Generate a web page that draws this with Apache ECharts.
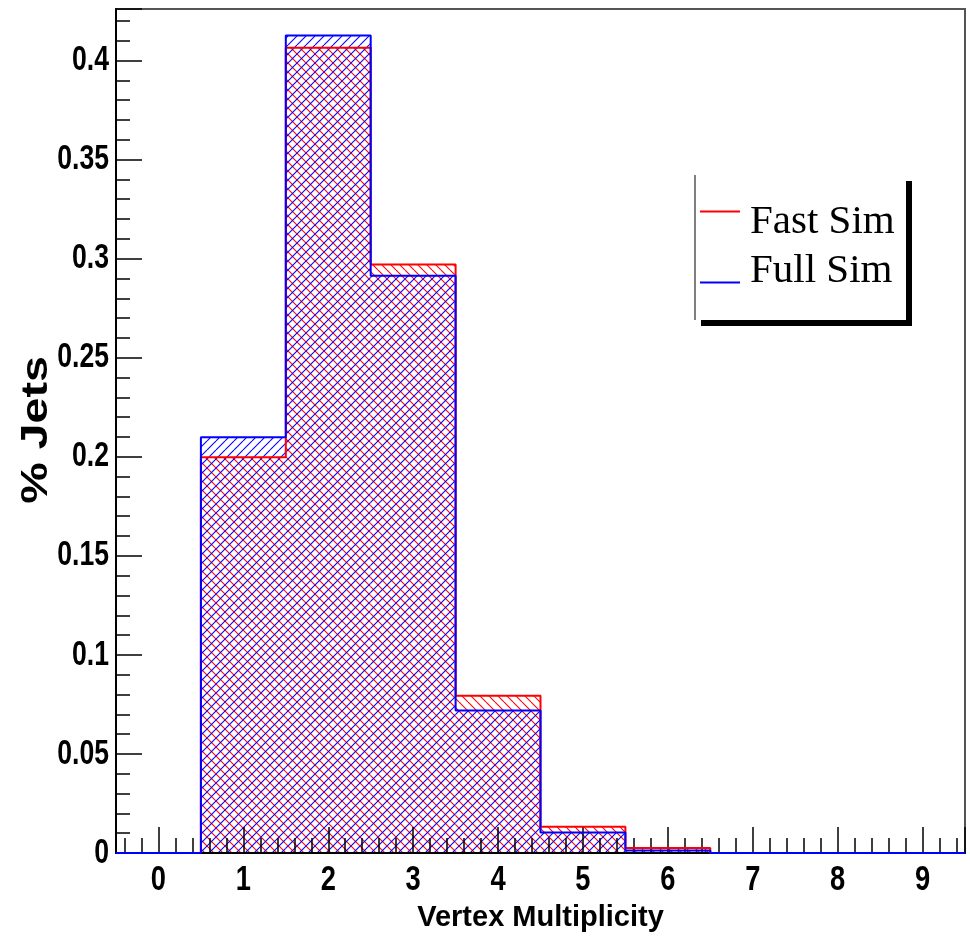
<!DOCTYPE html>
<html>
<head>
<meta charset="utf-8">
<script src="https://cdn.jsdelivr.net/npm/echarts@6/dist/echarts.min.js"></script>
<style>
  html, body { margin: 0; padding: 0; background: #fff; }
  #chart { width: 970px; height: 938px; }
</style>
</head>
<body>
<div id="chart"></div>
<script>
// Bin centres of the vertex-multiplicity histogram (unit-width bins)
const binCenters = [0, 1, 2, 3, 4, 5, 6, 7, 8, 9];
// Fraction of jets per bin
const fastSim = [0, 0.1998, 0.4064, 0.2970, 0.0794, 0.0133, 0.0025, 0, 0, 0];
const fullSim = [0, 0.2098, 0.4126, 0.2914, 0.0719, 0.0104, 0.0013, 0, 0, 0];
const seriesNames = ['Fast Sim', 'Full Sim'];
// Tick labels
const xTickValues = [0, 1, 2, 3, 4, 5, 6, 7, 8, 9];
const xTickLabels = ['0', '1', '2', '3', '4', '5', '6', '7', '8', '9'];
const yTickValues = [0, 0.05, 0.1, 0.15, 0.2, 0.25, 0.3, 0.35, 0.4];
const yTickLabels = ['0', '0.05', '0.1', '0.15', '0.2', '0.25', '0.3', '0.35', '0.4'];
const xTitle = 'Vertex Multiplicity';
const yTitle = '% Jets';

const RED = '#ff0000';
const BLUE = '#0000ff';
const SANS = "'Liberation Sans', Arial, Helvetica, sans-serif";
const SERIF = "'Liberation Serif', 'Times New Roman', serif";

// Diagonal hatch tile: dir > 0 gives "/" lines, dir < 0 gives "\" lines
function hatchTile(color, dir) {
  const s = 9;
  const c = document.createElement('canvas');
  c.width = s; c.height = s;
  const g = c.getContext('2d');
  g.strokeStyle = color;
  g.lineWidth = 1.1;
  for (const k of [-s, 0, s]) {
    g.beginPath();
    if (dir > 0) { g.moveTo(k, s); g.lineTo(k + s, 0); }
    else { g.moveTo(k, 0); g.lineTo(k + s, s); }
    g.stroke();
  }
  return c;
}

// Hatched bin bodies
function histFill(name, values, tile, z) {
  return {
    type: 'custom',
    name: name,
    z: z,
    silent: true,
    data: binCenters.map((c, i) => [c, values[i]]),
    renderItem(params, api) {
      const c = api.value(0), v = api.value(1);
      if (!v) return null;
      const p0 = api.coord([c - 0.5, v]);
      const p1 = api.coord([c + 0.5, 0]);
      return {
        type: 'rect',
        shape: { x: p0[0], y: p0[1], width: p1[0] - p0[0], height: p1[1] - p0[1] },
        style: { fill: { image: tile, repeat: 'repeat' }, stroke: null }
      };
    }
  };
}

// Step contour running along the bin edges
function histLine(name, values, color, z) {
  const pts = binCenters.map((c, i) => [c - 0.5, values[i]]);
  pts.push([binCenters[binCenters.length - 1] + 0.5, 0]);
  return {
    type: 'line',
    name: name,
    step: 'end',
    data: pts,
    symbol: 'none',
    z: z,
    silent: true,
    lineStyle: { color: color, width: 2 }
  };
}

const chart = echarts.init(document.getElementById('chart'), null, { renderer: 'canvas' });

const tickLine = { color: '#000', width: 1.5 };

chart.setOption({
  animation: false,
  backgroundColor: '#fff',
  grid: {
    left: 116, top: 9, width: 849, height: 844,
    outerBoundsMode: 'none',
    containLabel: false,
    show: true, borderColor: '#555', borderWidth: 2, backgroundColor: 'transparent'
  },
  xAxis: {
    type: 'value',
    min: -0.5, max: 9.5, splitNumber: 10,
    z: 3,
    name: xTitle,
    nameLocation: 'middle',
    nameGap: 50,
    nameTextStyle: { fontFamily: SANS, fontWeight: 'bold', fontSize: 29, color: '#000' },
    axisLine: { show: true, onZero: false, lineStyle: { color: '#000', width: 2 } },
    axisTick: { show: true, inside: true, length: 26, lineStyle: tickLine },
    minorTick: { show: true, splitNumber: 5, length: 15, lineStyle: tickLine },
    splitLine: { show: false },
    axisLabel: { show: false }
  },
  yAxis: {
    type: 'value',
    min: 0, max: 0.426, interval: 0.05,
    z: 3,
    axisLine: { show: true, onZero: false, lineStyle: { color: '#000', width: 2 } },
    axisTick: { show: true, inside: true, length: 26, lineStyle: tickLine },
    minorTick: { show: true, splitNumber: 5, length: 14, lineStyle: tickLine },
    splitLine: { show: false },
    axisLabel: { show: false }
  },
  series: [
    histFill(seriesNames[0], fastSim, hatchTile(RED, -1), 1),
    histFill(seriesNames[1], fullSim, hatchTile(BLUE, 1), 1),
    histLine(seriesNames[0], fastSim, RED, 5),
    histLine(seriesNames[1], fullSim, BLUE, 6)
  ]
});

// Condensed bold tick labels, placed through the axes' own scales
const labelFont = 'bold 35px ' + SANS;
const graphics = [];
xTickValues.forEach((v, i) => {
  const p = chart.convertToPixel({ gridIndex: 0 }, [v, 0]);
  graphics.push({
    type: 'text', x: p[0], y: p[1] + 27, scaleX: 0.78, z: 10,
    style: { text: xTickLabels[i], font: labelFont, fill: '#000', align: 'center', verticalAlign: 'middle' }
  });
});
yTickValues.forEach((v, i) => {
  const p = chart.convertToPixel({ gridIndex: 0 }, [-0.5, v]);
  graphics.push({
    type: 'text', x: p[0] - 7, y: p[1], scaleX: 0.76, z: 10,
    style: { text: yTickLabels[i], font: labelFont, fill: '#000', align: 'right', verticalAlign: 'middle' }
  });
});

// Vertical axis title
graphics.push({
  type: 'text', x: 37, y: 430, rotation: Math.PI / 2, scaleX: 1.26, z: 10,
  style: { text: yTitle, font: 'bold 37px ' + SANS, fill: '#000', align: 'center', verticalAlign: 'middle' }
});

// Legend box with hard drop shadow
graphics.push(
  { type: 'rect', z: 20, shape: { x: 701, y: 181, width: 211, height: 145 }, style: { fill: '#000' } },
  { type: 'rect', z: 21, shape: { x: 695, y: 175, width: 211, height: 145 }, style: { fill: '#fff' } },
  { type: 'line', z: 22, shape: { x1: 695, y1: 175, x2: 695, y2: 320 }, style: { stroke: '#555', lineWidth: 1.5 } },
  { type: 'line', z: 22, shape: { x1: 700, y1: 211.5, x2: 740, y2: 211.5 }, style: { stroke: RED, lineWidth: 2 } },
  { type: 'line', z: 22, shape: { x1: 700, y1: 282.5, x2: 740, y2: 282.5 }, style: { stroke: BLUE, lineWidth: 2 } },
  { type: 'text', z: 22, style: { x: 750, y: 222.5, text: seriesNames[0], fill: '#000', font: '41px ' + SERIF, verticalAlign: 'middle' } },
  { type: 'text', z: 22, style: { x: 750, y: 271, text: seriesNames[1], fill: '#000', font: '41px ' + SERIF, verticalAlign: 'middle' } }
);

chart.setOption({ graphic: { elements: graphics } });
</script>
</body>
</html>
